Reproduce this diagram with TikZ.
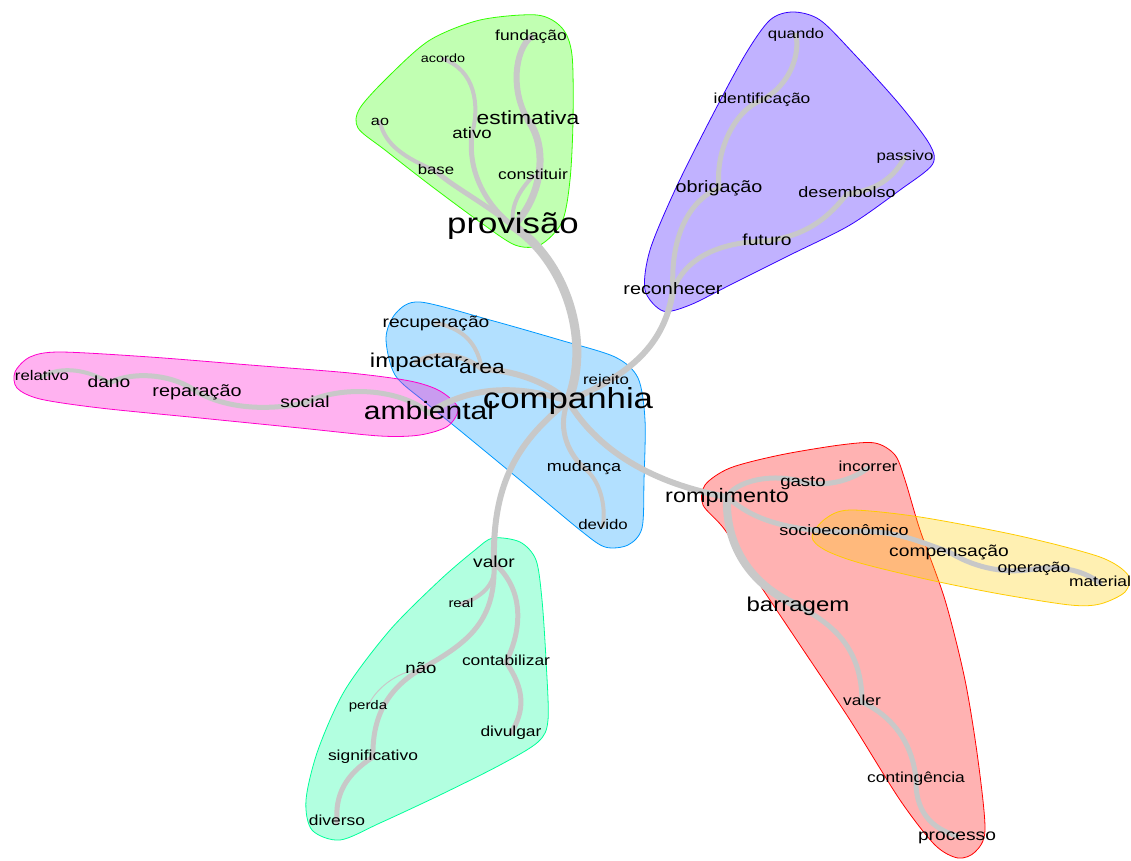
\documentclass[tikz,border=0pt]{standalone}
\usepackage{fontspec}
\setmainfont{Liberation Sans}[FakeStretch=1.2]
\usetikzlibrary{backgrounds}
\definecolor{linkGray}{HTML}{C8C8C8}
\definecolor{grpGreen}{HTML}{33FF00}
\definecolor{grpPurple}{HTML}{3300FF}
\definecolor{grpPink}{HTML}{FF00CC}
\definecolor{grpBlue}{HTML}{0099FF}
\definecolor{grpRed}{HTML}{FF0000}
\definecolor{grpYellow}{HTML}{FFCC00}
\definecolor{grpTeal}{HTML}{00FF99}
\pgfdeclarelayer{hulls}
\pgfdeclarelayer{links}
\pgfsetlayers{hulls,links,main}
\tikzset{
  word/.style={font=\fontsize{#1}{#1}\selectfont, inner sep=0pt,
    text height=#1*0.72pt, text depth=#1*0.2pt},
  link/.style={draw=linkGray, line width=#1, line cap=round},
  hull/.style={fill=#1, fill opacity=0.3, draw=#1, line width=0.8pt}
}

\begin{document}
\begin{tikzpicture}[x=1pt, y=-1pt]
  \useasboundingbox (0,0) rectangle (1131,860);
  % words
  \node[word=29] (comp) at (568,401) {companhia};
  \node[word=29] (prov) at (513,226) {provisão};
  \node[word=19] (estim) at (528,120) {estimativa};
  \node[word=14.5] (fund) at (531,37) {fundação};
  \node[word=12] (acordo) at (443,59) {acordo};
  \node[word=13.5] (ao) at (380,122) {ao};
  \node[word=15.5] (ativo) at (472,134) {ativo};
  \node[word=14] (base) at (436,171) {base};
  \node[word=14.5] (constit) at (533,176) {constituir};
  \node[word=16.5] (reconh) at (673,290) {reconhecer};
  \node[word=16.5] (obrig) at (719,188) {obrigação};
  \node[word=14.5] (ident) at (762,100) {identificação};
  \node[word=14] (quando) at (796,35) {quando};
  \node[word=16] (futuro) at (767,241) {futuro};
  \node[word=15] (desemb) at (847,194) {desembolso};
  \node[word=14] (passivo) at (905,157) {passivo};
  \node[word=25] (ambient) at (429,413) {ambiental};
  \node[word=16] (social) at (305,403) {social};
  \node[word=16.5] (repar) at (197,392) {reparação};
  \node[word=16] (dano) at (109,383) {dano};
  \node[word=14] (relat) at (42,377) {relativo};
  \node[word=19] (area) at (482,369) {área};
  \node[word=20] (impact) at (416,362) {impactar};
  \node[word=16] (recup) at (436,323) {recuperação};
  \node[word=14] (rejeito) at (606,381) {rejeito};
  \node[word=15] (mudanca) at (584,468) {mudança};
  \node[word=14] (devido) at (603,526) {devido};
  \node[word=19.5] (romp) at (727,497) {rompimento};
  \node[word=15.5] (gasto) at (803,482) {gasto};
  \node[word=14.5] (incorrer) at (868,468) {incorrer};
  \node[word=20] (barrag) at (798,606) {barragem};
  \node[word=14.5] (valer) at (862,702) {valer};
  \node[word=14.5] (conting) at (916,779) {contingência};
  \node[word=16] (processo) at (957,836) {processo};
  \node[word=15] (socio) at (844,532) {socioeconômico};
  \node[word=16] (compens) at (949,552) {compensação};
  \node[word=14.5] (operac) at (1034,569) {operação};
  \node[word=14.5] (material) at (1100,583) {material};
  \node[word=16] (valor) at (494,563) {valor};
  \node[word=12.5] (real) at (461,604) {real};
  \node[word=15.5] (nao) at (421,669) {não};
  \node[word=12.5] (perda) at (368,706) {perda};
  \node[word=14.5] (contab) at (506,662) {contabilizar};
  \node[word=14.5] (divulgar) at (511,733) {divulgar};
  \node[word=14.5] (signif) at (373,757) {significativo};
  \node[word=14.5] (diverso) at (337,822) {diverso};

  \begin{pgfonlayer}{links}
    \draw[link=9pt] (prov.center) .. controls (565,260) and (592,340) .. (comp.center);
    \draw[link=7pt] (prov.center) .. controls (540,200) and (550,150) .. (estim.center);
    \draw[link=6pt] (estim.center) .. controls (510,90) and (515,50) .. (fund.center);
    \draw[link=4pt] (prov.center) .. controls (510,205) and (520,190) .. (constit.center);
    \draw[link=5pt] (prov.center) .. controls (480,200) and (468,165) .. (ativo.center);
    \draw[link=4pt] (ativo.center) .. controls (480,105) and (475,70) .. (acordo.center);
    \draw[link=5pt] (prov.center) .. controls (480,200) and (450,185) .. (base.center);
    \draw[link=4pt] (base.center) .. controls (405,158) and (385,145) .. (ao.center);
    \draw[link=6pt] (comp.center) .. controls (630,375) and (665,345) .. (reconh.center);
    \draw[link=5pt] (reconh.center) .. controls (670,235) and (690,200) .. (obrig.center);
    \draw[link=5pt] (obrig.center) .. controls (715,150) and (735,110) .. (ident.center);
    \draw[link=5pt] (ident.center) .. controls (790,85) and (800,55) .. (quando.center);
    \draw[link=5pt] (reconh.center) .. controls (685,260) and (715,242) .. (futuro.center);
    \draw[link=5pt] (futuro.center) .. controls (810,235) and (830,215) .. (desemb.center);
    \draw[link=5pt] (desemb.center) .. controls (880,190) and (895,175) .. (passivo.center);
    \draw[link=6pt] (comp.center) .. controls (520,385) and (470,385) .. (ambient.center);
    \draw[link=5pt] (ambient.center) .. controls (400,388) and (340,385) .. (social.center);
    \draw[link=5pt] (social.center) .. controls (270,410) and (230,410) .. (repar.center);
    \draw[link=5pt] (repar.center) .. controls (175,375) and (135,370) .. (dano.center);
    \draw[link=4pt] (dano.center) .. controls (90,370) and (60,365) .. (relat.center);
    \draw[link=6pt] (comp.center) .. controls (545,380) and (510,370) .. (area.center);
    \draw[link=5pt] (area.center) .. controls (460,352) and (435,352) .. (impact.center);
    \draw[link=4pt] (area.center) .. controls (478,350) and (470,330) .. (recup.center);
    \draw[link=5pt] (comp.center) .. controls (558,425) and (565,450) .. (mudanca.center);
    \draw[link=4pt] (mudanca.center) .. controls (600,480) and (606,505) .. (devido.center);
    \draw[link=6pt] (comp.center) .. controls (600,455) and (660,485) .. (romp.center);
    \draw[link=5pt] (romp.center) .. controls (735,482) and (770,472) .. (gasto.center);
    \draw[link=5pt] (gasto.center) .. controls (830,488) and (855,478) .. (incorrer.center);
    \draw[link=8pt] (romp.center) .. controls (725,545) and (750,585) .. (barrag.center);
    \draw[link=5pt] (barrag.center) .. controls (835,625) and (862,650) .. (valer.center);
    \draw[link=5pt] (valer.center) .. controls (890,715) and (912,740) .. (conting.center);
    \draw[link=5pt] (conting.center) .. controls (915,810) and (930,828) .. (processo.center);
    \draw[link=5pt] (romp.center) .. controls (745,512) and (770,530) .. (socio.center);
    \draw[link=5pt] (socio.center) .. controls (890,528) and (915,540) .. (compens.center);
    \draw[link=5pt] (compens.center) .. controls (970,565) and (1000,575) .. (operac.center);
    \draw[link=5pt] (operac.center) .. controls (1065,565) and (1085,572) .. (material.center);
    \draw[link=6pt] (comp.center) .. controls (520,440) and (492,480) .. (valor.center);
    \draw[link=4pt] (valor.center) .. controls (497,585) and (480,598) .. (real.center);
    \draw[link=5pt] (valor.center) .. controls (496,620) and (470,642) .. (nao.center);
    \draw[link=1pt] (nao.center) .. controls (395,672) and (375,690) .. (perda.center);
    \draw[link=5pt] (nao.center) .. controls (385,690) and (372,720) .. (signif.center);
    \draw[link=5pt] (signif.center) .. controls (345,775) and (335,795) .. (diverso.center);
    \draw[link=5pt] (valor.center) .. controls (525,590) and (522,630) .. (contab.center);
    \draw[link=5pt] (contab.center) .. controls (525,690) and (525,710) .. (divulgar.center);
  \end{pgfonlayer}

  \begin{pgfonlayer}{hulls}
    \filldraw[hull=grpBlue] plot[smooth cycle] coordinates {(386,338) (396,313) (420,302) (490,320) (560,340) (615,357) (638,378) (645,420) (644,480) (642,528) (628,545) (605,547) (580,530) (520,480) (463,433) (425,402) (395,375)};
    \filldraw[hull=grpPink] plot[smooth cycle] coordinates {(15,372) (30,357) (60,352) (150,357) (250,365) (350,373) (410,381) (440,391) (458,408) (448,426) (420,435) (380,436) (300,428) (200,418) (100,408) (40,399) (17,388)};
    \filldraw[hull=grpGreen] plot[smooth cycle] coordinates {(537,15) (562,28) (572,55) (573,120) (570,180) (562,222) (540,245) (515,245) (480,222) (430,185) (385,150) (358,128) (360,108) (390,75) (430,40) (480,20)};
    \filldraw[hull=grpPurple] plot[smooth cycle] coordinates {(793,12) (820,20) (855,55) (900,105) (930,145) (932,165) (900,190) (850,225) (790,255) (730,285) (690,305) (663,311) (645,290) (650,250) (675,190) (710,120) (745,55) (770,20)};
    \filldraw[hull=grpRed] plot[smooth cycle] coordinates {(705,485) (730,468) (780,455) (840,445) (875,443) (895,455) (905,480) (920,530) (945,600) (965,680) (978,760) (985,830) (975,852) (958,858) (935,845) (900,800) (850,720) (800,645) (760,585) (725,530) (703,505)};
    \filldraw[hull=grpYellow] plot[smooth cycle] coordinates {(812,537) (825,519) (850,510) (920,517) (1020,536) (1100,557) (1128,575) (1125,592) (1100,604) (1070,605) (1000,594) (930,580) (860,563) (825,550)};
    \filldraw[hull=grpTeal] plot[smooth cycle] coordinates {(493,538) (520,542) (536,560) (542,600) (546,660) (548,720) (538,742) (500,765) (440,795) (380,823) (340,840) (312,830) (306,800) (318,750) (345,690) (390,630) (440,580) (475,550)};
  \end{pgfonlayer}
\end{tikzpicture}
\end{document}
